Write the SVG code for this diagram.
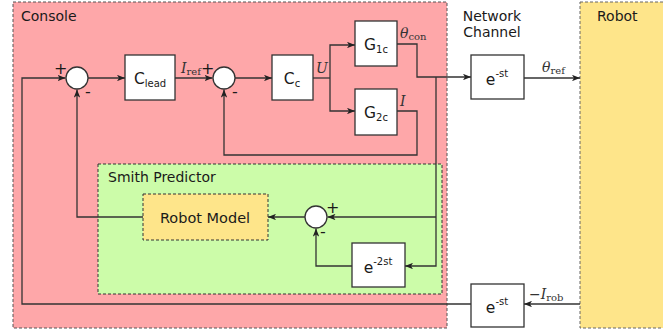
<svg xmlns="http://www.w3.org/2000/svg" width="663" height="333" viewBox="0 0 663 333">
<style>
.t{font-family:"DejaVu Sans",sans-serif;font-size:14px;fill:#1a1a1a}
.lbl{font-family:"DejaVu Sans",sans-serif;font-size:14px;fill:#1a1a1a;text-anchor:middle}
.bl{font-family:"DejaVu Sans",sans-serif;font-size:15.5px;fill:#1a1a1a;text-anchor:middle}
.sub{font-size:10px}
.m{font-family:"DejaVu Serif","Liberation Serif",serif;font-size:14px;fill:#333}
.ms{font-size:10px;font-style:normal}
.box{fill:#fff;stroke:#333;stroke-width:1.3}
.sum{fill:#fff;stroke:#333;stroke-width:1.3}
.w{fill:none;stroke:#333;stroke-width:1.3}
.wa{fill:none;stroke:#333;stroke-width:1.3;marker-end:url(#ah)}
.sg{font-family:"DejaVu Sans",sans-serif;font-size:16px;fill:#1a1a1a}
</style>
<defs>
<marker id="ah" viewBox="0 0 10 8" refX="10" refY="4" markerWidth="8" markerHeight="6.4" markerUnits="userSpaceOnUse" orient="auto">
<path d="M0,0 L10,4 L0,8 L2.5,4 Z" fill="#222"/>
</marker>
</defs>
<g id="console">
<rect x="13" y="2" width="434" height="326" fill="#fea7a9" stroke="#555" stroke-width="1" stroke-dasharray="3,2"/>
<text class="t" x="21" y="21">Console</text>
</g>
<g id="robot">
<rect x="580" y="2" width="90" height="326" fill="#fee58a" stroke="#666" stroke-width="1" stroke-dasharray="3,2"/>
<text class="t" x="597" y="21">Robot</text>
</g>
<g id="network">
<text class="lbl" x="492" y="21">Network</text>
<text class="lbl" x="492" y="37">Channel</text>
</g>
<g id="smith">
<rect x="98" y="164" width="344" height="130" fill="#ccfca9" stroke="#333" stroke-width="1" stroke-dasharray="3,2"/>
<text class="t" x="108" y="182">Smith Predictor</text>
</g>
<g id="connectors">
<path class="wa" d="M471,304 H22 V78 H65.5"/>
<path class="wa" d="M88,78 H125"/>
<path class="wa" d="M175,78 H212.5"/>
<path class="wa" d="M235,78 H272"/>
<path class="w" d="M313,78 H330"/>
<path class="wa" d="M330,78 V45 H355"/>
<path class="wa" d="M330,78 V111 H355"/>
<path class="wa" d="M397,44 H417 V77 H471"/>
<path class="wa" d="M397,111 H417 V155 H224 V89.5"/>
<path class="wa" d="M436,77 V266 H405"/>
<path class="wa" d="M436,217 H327.5"/>
<path class="wa" d="M305,217 H268"/>
<path class="wa" d="M143,217 H77 V89.5"/>
<path class="wa" d="M352,266 H316 V228.5"/>
<path class="wa" d="M524,78 H580"/>
<path class="wa" d="M580,304 H524"/>
</g>
<g id="sum1">
<circle class="sum" cx="77" cy="78" r="11"/>
<text class="sg" x="54" y="74">+</text>
<text class="sg" x="85" y="97">-</text>
</g>
<g id="sum2">
<circle class="sum" cx="224" cy="78" r="11"/>
<text class="sg" x="201" y="74">+</text>
<text class="sg" x="232" y="97">-</text>
</g>
<g id="sum3">
<circle class="sum" cx="316" cy="217" r="11"/>
<text class="sg" x="326" y="213">+</text>
<text class="sg" x="320" y="237">-</text>
</g>
<g id="clead">
<rect class="box" x="125" y="55" width="50" height="45"/>
<text class="bl" x="150" y="84">C<tspan class="sub" dy="3">lead</tspan></text>
</g>
<g id="cc">
<rect class="box" x="272" y="55" width="41" height="45"/>
<text class="bl" x="292" y="84">C<tspan class="sub" dy="3">c</tspan></text>
</g>
<g id="g1c">
<rect class="box" x="355" y="21" width="42" height="45"/>
<text class="bl" x="376" y="50">G<tspan class="sub" dy="3">1c</tspan></text>
</g>
<g id="g2c">
<rect class="box" x="355" y="89" width="42" height="46"/>
<text class="bl" x="376" y="118">G<tspan class="sub" dy="3">2c</tspan></text>
</g>
<g id="delay1">
<rect class="box" x="471" y="55" width="53" height="44"/>
<text class="bl" x="497" y="85">e<tspan class="sub" dy="-8">-st</tspan></text>
</g>
<g id="delay2">
<rect class="box" x="471" y="284" width="53" height="43"/>
<text class="bl" x="497" y="313">e<tspan class="sub" dy="-8">-st</tspan></text>
</g>
<g id="delay3">
<rect class="box" x="352" y="243" width="53" height="44"/>
<text class="bl" x="378" y="273">e<tspan class="sub" dy="-8">-2st</tspan></text>
</g>
<g id="robotmodel">
<rect x="143" y="194" width="125" height="46" fill="#fee58a" stroke="#333" stroke-width="1" stroke-dasharray="3,2"/>
<text class="bl" x="205" y="223" style="font-size:14.5px">Robot Model</text>
</g>
<g id="labels">
<text class="m" x="181" y="73"><tspan font-style="italic">I</tspan><tspan class="ms" dy="2">ref</tspan></text>
<text class="m" x="316" y="73" font-style="italic">U</text>
<text class="m" x="400" y="38"><tspan font-style="italic">θ</tspan><tspan class="ms" dy="2">con</tspan></text>
<text class="m" x="400" y="106" font-style="italic">I</text>
<text class="m" x="542" y="72"><tspan font-style="italic">θ</tspan><tspan class="ms" dy="2">ref</tspan></text>
<text class="m" x="529" y="299">−<tspan font-style="italic">I</tspan><tspan class="ms" dy="2">rob</tspan></text>
</g>
</svg>
